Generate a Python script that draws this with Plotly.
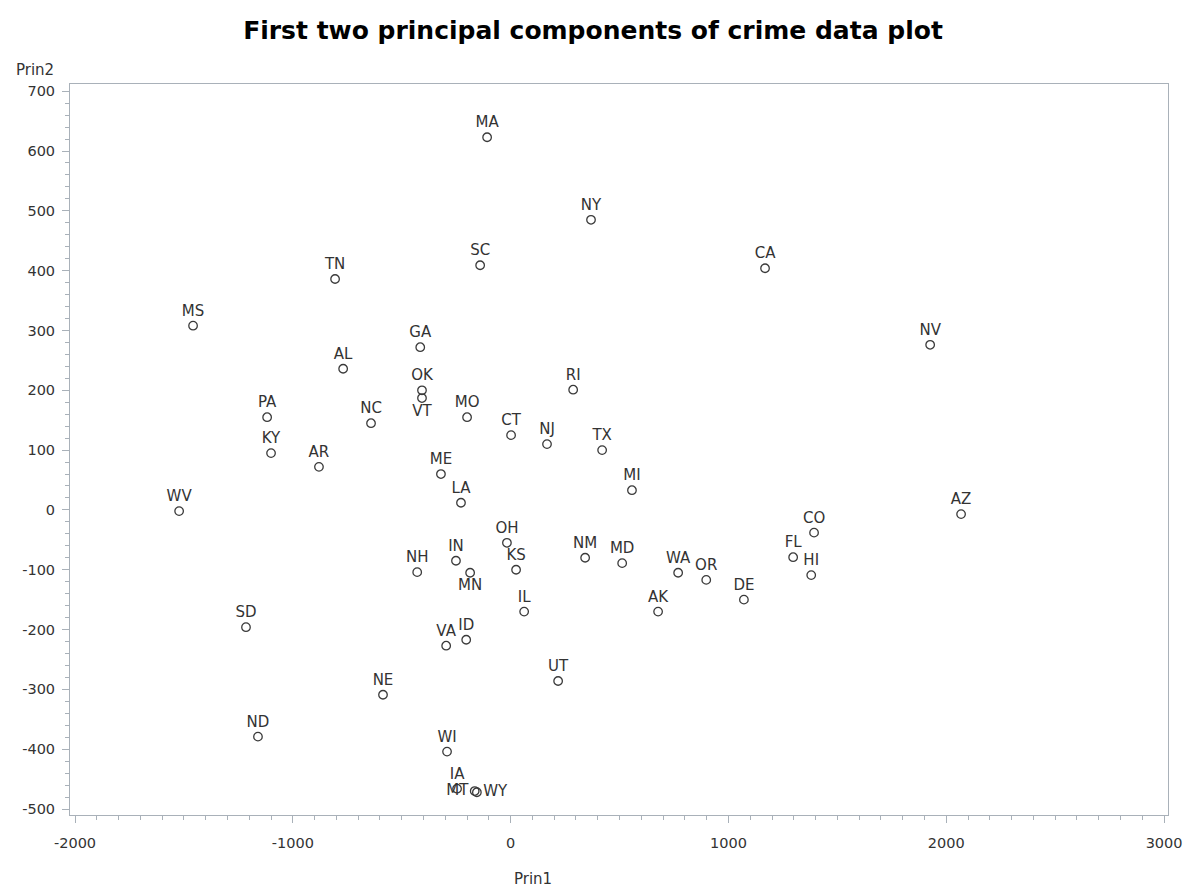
import plotly.graph_objects as go

# Scores on the first two principal components for each state
states = ["MA", "NY", "CA", "SC", "TN", "MS", "NV", "GA", "AL", "RI",
          "OK", "VT", "PA", "NC", "MO", "CT", "NJ", "TX", "KY", "AR",
          "ME", "MI", "LA", "WV", "AZ", "CO", "OH", "FL", "NM", "IN",
          "MD", "HI", "KS", "NH", "MN", "WA", "OR", "DE", "AK", "IL",
          "SD", "ID", "VA", "UT", "NE", "ND", "WI", "IA", "MT", "WY"]
prin1 = [-108, 369, 1168, -140, -806, -1458, 1926, -415, -769, 287,
         -407, -407, -1118, -641, -200, 2, 167, 420, -1100, -880,
         -320, 557, -228, -1522, 2068, 1393, -17, 1297, 342, -251,
         512, 1380, 25, -429, -186, 769, 898, 1071, 677, 62,
         -1215, -204, -296, 218, -586, -1160, -292, -246, -165, -155]
prin2 = [623, 485, 404, 409, 386, 308, 276, 272, 236, 201,
         200, 187, 155, 145, 155, 125, 110, 100, 95, 72,
         60, 33, 12, -2, -7, -38, -55, -79, -80, -85,
         -89, -109, -100, -104, -105, -105, -117, -150, -170, -170,
         -196, -217, -227, -286, -309, -379, -404, -466, -470, -472]

# Major tick values and their labels (plain hyphen for negatives)
x_ticks = [-2000, -1000, 0, 1000, 2000, 3000]
x_tick_labels = ["-2000", "-1000", "0", "1000", "2000", "3000"]
y_ticks = [-500, -400, -300, -200, -100, 0, 100, 200, 300, 400, 500, 600, 700]
y_tick_labels = ["-500", "-400", "-300", "-200", "-100", "0", "100", "200",
                 "300", "400", "500", "600", "700"]

# Labels sit above their point unless they would collide with a neighbour
label_side = {"VT": "bottom center", "MN": "bottom center",
              "MT": "middle left", "WY": "middle right"}
positions = [label_side.get(s, "top center") for s in states]

axis_color = "#a9b1b9"
text_color = "#333333"
font_family = "DejaVu Sans, Arial, sans-serif"

fig = go.Figure(
    go.Scatter(
        x=prin1, y=prin2, text=states,
        mode="markers+text",
        textposition=positions,
        textfont=dict(family=font_family, size=15, color=text_color),
        marker=dict(symbol="circle-open", size=8.5,
                    color="#3a3a3a", line=dict(width=1.3)),
        cliponaxis=False,
        hoverinfo="text+x+y",
    )
)

fig.update_layout(
    width=1186, height=888,
    margin=dict(l=70, r=18, t=84, b=73),
    paper_bgcolor="white", plot_bgcolor="white",
    showlegend=False,
    font=dict(family=font_family, size=14, color=text_color),
    title=dict(
        text="First two principal components of crime data plot",
        x=0.5, xanchor="center", y=0.966, yanchor="middle",
        font=dict(family="DejaVu Sans, Arial", size=25,
                  color="#000000", weight="bold"),
    ),
)

fig.update_xaxes(
    range=[-2023, 3018],
    tickmode="array", tickvals=x_ticks, ticktext=x_tick_labels,
    automargin=False,
    showgrid=False, zeroline=False,
    showline=True, linecolor=axis_color, linewidth=1, mirror=True,
    ticks="outside", ticklen=7, tickcolor=axis_color,
    ticklabelstandoff=8,
    tickfont=dict(size=14.5, color=text_color),
    minor=dict(tickmode="linear", tick0=-2000, dtick=100,
               ticks="outside", ticklen=4,
               tickcolor=axis_color, showgrid=False),
)
fig.update_yaxes(
    range=[-510, 712],
    tickmode="array", tickvals=y_ticks, ticktext=y_tick_labels,
    automargin=False,
    showgrid=False, zeroline=False,
    showline=True, linecolor=axis_color, linewidth=1, mirror=True,
    ticks="outside", ticklen=7, tickcolor=axis_color,
    ticklabelstandoff=4,
    tickfont=dict(size=14.5, color=text_color),
    minor=dict(tickmode="linear", tick0=-500, dtick=20,
               ticks="outside", ticklen=4,
               tickcolor=axis_color, showgrid=False),
)

# Axis names: Prin1 under the axis, Prin2 above the vertical axis
fig.add_annotation(text="Prin1", xref="paper", yref="paper",
                   x=0.422, y=-0.087, xanchor="center", yanchor="middle",
                   showarrow=False, font=dict(size=15, color=text_color))
fig.add_annotation(text="Prin2", xref="paper", yref="paper",
                   x=-0.032, y=1.019, xanchor="center", yanchor="middle",
                   showarrow=False, font=dict(size=15, color=text_color))

fig.write_html("out.html")
